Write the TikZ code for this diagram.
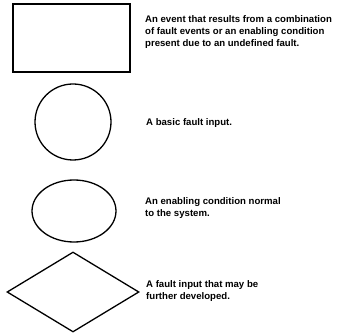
\documentclass[tikz,border=0pt]{standalone}
\usepackage{fontspec}
\setmainfont{Liberation Sans}
\usetikzlibrary{shapes.geometric}
\begin{document}
\begin{tikzpicture}[x=1pt,y=-1pt,
  shp/.style={draw=black,line width=1.3pt,inner sep=0pt},
  desc/.style={anchor=west,align=left,font=\fontsize{9.6}{12}\selectfont\bfseries,inner sep=0pt}]
\useasboundingbox (0,0) rectangle (337,336);
\node[shp,rectangle,minimum width=117pt,minimum height=68pt] (rect) at (71.5,38) {};
\node[shp,circle,minimum size=76pt] (circ) at (73,122) {};
\node[shp,ellipse,minimum width=84pt,minimum height=62pt] (ell) at (74,211) {};
\node[shp,diamond,minimum width=132pt,minimum height=80pt] (dia) at (73,292) {};
\node[desc] (t1) at (145,32) {An event that results from a combination\\of fault events or an enabling condition\\present due to an undefined fault.};
\node[desc] (t2) at (146,123) {A basic fault input.};
\node[desc] (t3) at (145,208.5) {An enabling condition normal\\to the system.};
\node[desc] (t4) at (146,291) {A fault input that may be\\further developed.};
\end{tikzpicture}
\end{document}
